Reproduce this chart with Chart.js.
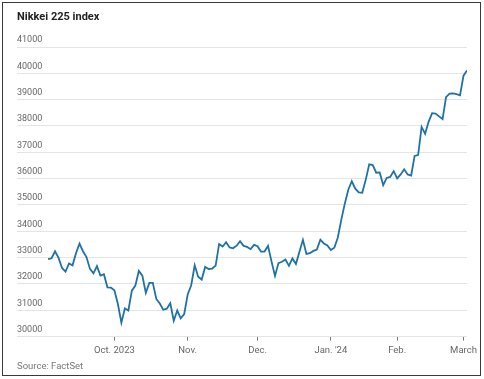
<!DOCTYPE html>
<html>
<head>
<meta charset="utf-8">
<script src="https://cdn.jsdelivr.net/npm/chart.js"></script>
<style>
  html, body { margin: 0; padding: 0; background: #fff; }
  body { width: 484px; height: 379px; position: relative; overflow: hidden; font-family: Roboto, "Liberation Sans", sans-serif; }
  #frame { position: absolute; left: 2px; top: 2px; width: 477px; height: 372px; border: 1.5px solid #3a3a3a; }
  #title { position: absolute; left: 17px; top: 10px; font-size: 11px; font-weight: bold; color: #222; }
  #source { position: absolute; left: 17px; top: 360px; font-size: 9.5px; color: #777; }
  #wrap { position: absolute; left: 0; top: 0; width: 484px; height: 379px; }
</style>
</head>
<body>
<div id="frame"></div>
<div id="wrap"><canvas id="chart-nikkei"></canvas></div>
<div id="title">Nikkei 225 index</div>
<div id="source">Source: FactSet</div>
<script>
// trading days, Sep 4 2023 - Mar 4 2024
const dates = [
    '2023-09-04', '2023-09-05', '2023-09-06', '2023-09-07', '2023-09-08',
    '2023-09-11', '2023-09-12', '2023-09-13', '2023-09-14', '2023-09-15',
    '2023-09-19', '2023-09-20', '2023-09-21', '2023-09-22',
    '2023-09-25', '2023-09-26', '2023-09-27', '2023-09-28', '2023-09-29',
    '2023-10-02', '2023-10-03', '2023-10-04', '2023-10-05', '2023-10-06',
    '2023-10-10', '2023-10-11', '2023-10-12', '2023-10-13',
    '2023-10-16', '2023-10-17', '2023-10-18', '2023-10-19', '2023-10-20',
    '2023-10-23', '2023-10-24', '2023-10-25', '2023-10-26', '2023-10-27',
    '2023-10-30', '2023-10-31',
    '2023-11-01', '2023-11-02',
    '2023-11-06', '2023-11-07', '2023-11-08', '2023-11-09', '2023-11-10',
    '2023-11-13', '2023-11-14', '2023-11-15', '2023-11-16', '2023-11-17',
    '2023-11-20', '2023-11-21', '2023-11-22', '2023-11-24',
    '2023-11-27', '2023-11-28', '2023-11-29', '2023-11-30',
    '2023-12-01',
    '2023-12-04', '2023-12-05', '2023-12-06', '2023-12-07', '2023-12-08',
    '2023-12-11', '2023-12-12', '2023-12-13', '2023-12-14', '2023-12-15',
    '2023-12-18', '2023-12-19', '2023-12-20', '2023-12-21', '2023-12-22',
    '2023-12-25', '2023-12-26', '2023-12-27', '2023-12-28', '2023-12-29',
    '2024-01-04', '2024-01-05',
    '2024-01-09', '2024-01-10', '2024-01-11', '2024-01-12',
    '2024-01-15', '2024-01-16', '2024-01-17', '2024-01-18', '2024-01-19',
    '2024-01-22', '2024-01-23', '2024-01-24', '2024-01-25', '2024-01-26',
    '2024-01-29', '2024-01-30', '2024-01-31',
    '2024-02-01', '2024-02-02',
    '2024-02-05', '2024-02-06', '2024-02-07', '2024-02-08', '2024-02-09',
    '2024-02-13', '2024-02-14', '2024-02-15', '2024-02-16',
    '2024-02-19', '2024-02-20', '2024-02-21', '2024-02-22',
    '2024-02-26', '2024-02-27', '2024-02-28', '2024-02-29',
    '2024-03-01', '2024-03-04'
]

const closes = [
    32939, 32975, 33241, 32991, 32606,
    32467, 32776, 32707, 33168, 33533,
    33242, 33023, 32571, 32402,
    32678, 32315, 32371, 31872, 31857,
    31759, 31237, 30526, 31075, 30994,
    31746, 31936, 32494, 32315,
    31659, 32040, 32042, 31430, 31259,
    31019, 31062, 31269, 30601, 30991,
    30697, 30858,
    31601, 31950,
    32708, 32272, 32166, 32646, 32568,
    32585, 32695, 33519, 33424, 33585,
    33388, 33354, 33452, 33625,
    33447, 33408, 33321, 33486,
    33431,
    33231, 33231, 33445, 32858, 32307,
    32791, 32843, 32926, 32686, 32970,
    32758, 33219, 33675, 33141, 33169,
    33254, 33305, 33681, 33539, 33464,
    33288, 33377,
    33763, 34441, 35049, 35577,
    35901, 35619, 35477, 35466, 35963,
    36546, 36517, 36226, 36236, 35751,
    36026, 36066, 36287,
    36011, 36158,
    36354, 36160, 36119, 36863, 36897,
    37964, 37703, 38157, 38487,
    38470, 38364, 38262, 39098,
    39233, 39239, 39208, 39166,
    39910, 40109
]

const monthTicks = ['2023-10-02', '2023-11-01', '2023-12-01', '2024-01-04', '2024-02-01', '2024-03-01']
const monthLabels = ['Oct. 2023', 'Nov.', 'Dec.', "Jan. '24", 'Feb.', 'March']

const yMin = 30000
const yMax = 41000
const yStep = 1000

const tickIndex = monthTicks.map(d => dates.indexOf(d))

const ctx = document.getElementById('chart-nikkei').getContext('2d')

const chart = new Chart(ctx, {
    type: 'line',
    data: {
        datasets: [{
            label: 'Nikkei 225',
            data: closes.map((v, i) => ({ x: i, y: v })),
            borderColor: '#1f72a3',
            borderWidth: 1.8,
            pointRadius: 0,
            tension: 0,
            fill: false
        }]
    },
    options: {
        responsive: true,
        maintainAspectRatio: false,
        animation: false,
        layout: {
            padding: { left: 17, right: 17, top: 47, bottom: 19 }
        },
        plugins: {
            legend: { display: false },
            tooltip: { enabled: false }
        },
        scales: {
            x: {
                type: 'linear',
                min: -8.9,
                max: dates.length - 1,
                afterBuildTicks: (axis) => {
                    axis.ticks = tickIndex.map(i => ({ value: i }))
                },
                grid: {
                    display: true,
                    drawOnChartArea: false,
                    drawTicks: true,
                    tickLength: 4,
                    tickWidth: 1,
                    tickColor: '#777'
                },
                border: { display: false },
                ticks: {
                    autoSkip: false,
                    maxRotation: 0,
                    padding: 4,
                    color: '#666',
                    font: { family: 'Roboto', size: 9.5 },
                    callback: function (value) {
                        const k = tickIndex.indexOf(value)
                        return k >= 0 ? monthLabels[k] : ''
                    }
                }
            },
            y: {
                min: yMin,
                max: yMax,
                grid: {
                    color: '#e4e4e4',
                    lineWidth: 1,
                    drawTicks: false
                },
                border: { display: false },
                ticks: {
                    stepSize: yStep,
                    mirror: true,
                    padding: 0,
                    labelOffset: -7,
                    color: '#666',
                    font: { family: 'Roboto', size: 9 },
                    callback: function (value) {
                        return String(value)
                    }
                }
            }
        }
    }
})
</script>
</body>
</html>
